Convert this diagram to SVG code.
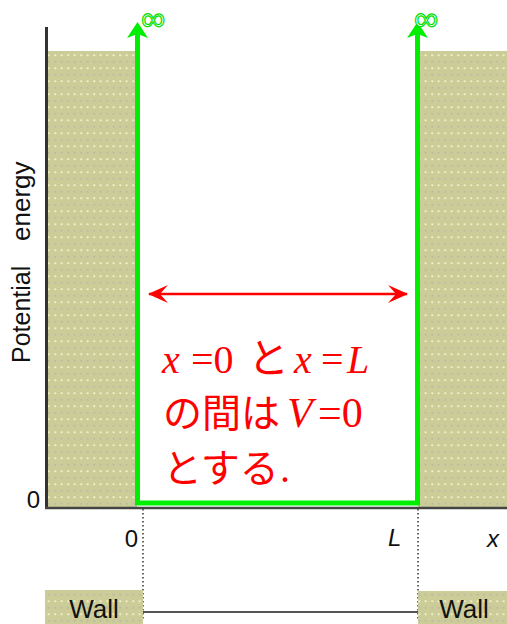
<svg xmlns="http://www.w3.org/2000/svg" width="507" height="624" viewBox="0 0 507 624">
<style>
.lbl{font-family:"Liberation Sans",Arial,sans-serif;font-size:24px;fill:#111}
.red{fill:#ff0000}
.math{font-family:"Liberation Serif","Times New Roman",serif;font-size:40px}
.it{font-style:italic}
.jp{font-family:"Noto Sans CJK JP",sans-serif;font-size:39px}
.inf{font-family:"Liberation Sans",sans-serif;font-size:34px;fill:#fff;stroke:#00e000;stroke-width:1.2}
</style>
<defs>
<pattern id="dots" width="6.5" height="13" patternUnits="userSpaceOnUse">
<rect width="6.5" height="13" fill="#cccc99"/>
<circle cx="3.2" cy="3.2" r="1" fill="#f8f8d0"/>
<circle cx="3.2" cy="9.7" r="1" fill="#b8b8a8"/>
</pattern>
<marker id="rh" viewBox="0 0 20 18" refX="19" refY="9" markerWidth="20" markerHeight="18" markerUnits="userSpaceOnUse" orient="auto-start-reverse">
<path d="M20,9 L0,0 L8,9 L0,18 Z" fill="#ff0000"/>
</marker>
</defs>

<g id="left-wall"><rect x="47" y="51" width="90" height="456" fill="url(#dots)"/></g>
<g id="right-wall"><rect x="418" y="51" width="89" height="456" fill="url(#dots)"/></g>

<g id="axes">
<line x1="46.5" y1="27" x2="46.5" y2="509" stroke="#333" stroke-width="3"/>
<line x1="45" y1="508" x2="507" y2="508" stroke="#444" stroke-width="2.5"/>
</g>

<g id="connectors">
<path d="M137.5,34 V503 H417.5 V34" fill="none" stroke="#00ee00" stroke-width="5"/>
<polygon points="137.5,22 127,38 137.5,34 148,38" fill="#00ee00"/>
<polygon points="417.5,22 407,38 417.5,34 428,38" fill="#00ee00"/>
<line x1="143" y1="509" x2="143" y2="620" stroke="#333" stroke-width="1.5" stroke-dasharray="1.5,2.5"/>
<line x1="418" y1="509" x2="418" y2="620" stroke="#333" stroke-width="1.5" stroke-dasharray="1.5,2.5"/>
<line x1="143" y1="612" x2="418" y2="612" stroke="#555" stroke-width="2"/>
<line x1="149" y1="294" x2="407" y2="294" stroke="#ff0000" stroke-width="2.5" marker-start="url(#rh)" marker-end="url(#rh)"/>
</g>

<g id="infinity-left"><text class="inf" x="141" y="30">∞</text></g>
<g id="infinity-right"><text class="inf" x="414" y="30">∞</text></g>

<g id="y-label">
<text class="lbl" transform="translate(30,363) rotate(-90)" style="font-size:25px">Potential</text>
<text class="lbl" transform="translate(30,241) rotate(-90)" style="font-size:26px">energy</text>
</g>

<g id="tick-labels">
<text class="lbl" x="40" y="508" text-anchor="end">0</text>
<text class="lbl" x="138" y="547" text-anchor="end">0</text>
<text class="lbl" x="388" y="546" font-style="italic">L</text>
<text class="lbl" x="487" y="547" font-style="italic">x</text>
</g>

<g id="wall-left-box">
<rect x="45" y="590" width="98" height="34" fill="url(#dots)"/>
<text class="lbl" x="94" y="618" text-anchor="middle" style="font-size:26px">Wall</text>
</g>
<g id="wall-right-box">
<rect x="418" y="591" width="89" height="33" fill="url(#dots)"/>
<text class="lbl" x="464" y="618" text-anchor="middle" style="font-size:26px">Wall</text>
</g>

<g id="note" class="red">
<text y="373"><tspan class="math it" x="162">x</tspan><tspan class="math" x="191">=0</tspan><tspan class="jp" x="248" style="font-size:41px">と</tspan><tspan class="math it" x="294">x</tspan><tspan class="math" x="321">=</tspan><tspan class="math it" x="347">L</tspan></text>
<text y="427"><tspan class="jp" x="163">の間は</tspan><tspan class="math it" x="287" style="font-size:42px">V</tspan><tspan class="math" x="318" style="font-size:42px">=0</tspan></text>
<text y="482"><tspan class="jp" x="163">とする</tspan><tspan class="math" x="280">.</tspan></text>
</g>
</svg>
